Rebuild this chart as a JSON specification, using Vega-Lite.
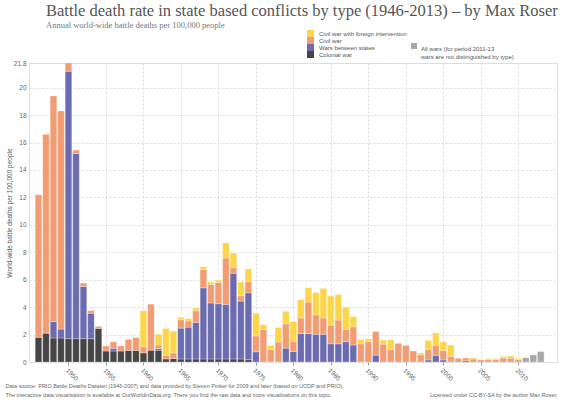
{
  "$schema": "https://vega.github.io/schema/vega-lite/v6.json",
  "autosize": {"type": "fit", "contains": "padding"},
  "width": 565,
  "height": 401,
  "padding": {"left": 5, "right": 8, "top": 3, "bottom": 3},
  "background": "white",
  "title": {
    "text": "Battle death rate in state based conflicts by type (1946-2013) – by Max Roser",
    "subtitle": "Annual world-wide battle deaths per 100,000 people",
    "anchor": "start",
    "frame": "group",
    "dx": 17,
    "offset": 31,
    "font": "Liberation Serif",
    "fontSize": 16.5,
    "fontWeight": "normal",
    "color": "#555555",
    "subtitleFont": "Liberation Serif",
    "subtitleFontSize": 8.5,
    "subtitleColor": "#777777",
    "subtitlePadding": 1
  },
  "data": {
    "values": [
      {"year": 1946, "type": "Colonial war", "value": 1.8},
      {"year": 1946, "type": "Civil war", "value": 10.4},
      {"year": 1947, "type": "Colonial war", "value": 2.1},
      {"year": 1947, "type": "Civil war", "value": 14.5},
      {"year": 1948, "type": "Colonial war", "value": 1.75},
      {"year": 1948, "type": "Wars between states", "value": 1.2},
      {"year": 1948, "type": "Civil war", "value": 16.45},
      {"year": 1949, "type": "Colonial war", "value": 1.75},
      {"year": 1949, "type": "Wars between states", "value": 0.65},
      {"year": 1949, "type": "Civil war", "value": 15.9},
      {"year": 1950, "type": "Colonial war", "value": 1.7},
      {"year": 1950, "type": "Wars between states", "value": 19.5},
      {"year": 1950, "type": "Civil war", "value": 0.6},
      {"year": 1951, "type": "Colonial war", "value": 1.7},
      {"year": 1951, "type": "Wars between states", "value": 13.5},
      {"year": 1951, "type": "Civil war", "value": 0.25},
      {"year": 1952, "type": "Colonial war", "value": 1.7},
      {"year": 1952, "type": "Wars between states", "value": 3.8},
      {"year": 1952, "type": "Civil war", "value": 0.25},
      {"year": 1953, "type": "Colonial war", "value": 1.7},
      {"year": 1953, "type": "Wars between states", "value": 1.85},
      {"year": 1953, "type": "Civil war", "value": 0.2},
      {"year": 1954, "type": "Colonial war", "value": 2.45},
      {"year": 1954, "type": "Civil war", "value": 0.15},
      {"year": 1955, "type": "Colonial war", "value": 0.8},
      {"year": 1955, "type": "Civil war", "value": 0.37},
      {"year": 1956, "type": "Colonial war", "value": 0.8},
      {"year": 1956, "type": "Wars between states", "value": 0.2},
      {"year": 1956, "type": "Civil war", "value": 0.47},
      {"year": 1957, "type": "Colonial war", "value": 0.8},
      {"year": 1957, "type": "Civil war", "value": 0.37},
      {"year": 1958, "type": "Colonial war", "value": 0.84},
      {"year": 1958, "type": "Civil war", "value": 0.81},
      {"year": 1959, "type": "Colonial war", "value": 0.84},
      {"year": 1959, "type": "Civil war", "value": 0.94},
      {"year": 1960, "type": "Colonial war", "value": 0.67},
      {"year": 1960, "type": "Civil war", "value": 0.44},
      {"year": 1960, "type": "Civil war with foreign intervention", "value": 2.62},
      {"year": 1961, "type": "Colonial war", "value": 0.86},
      {"year": 1961, "type": "Civil war", "value": 3.36},
      {"year": 1962, "type": "Colonial war", "value": 0.86},
      {"year": 1962, "type": "Wars between states", "value": 0.13},
      {"year": 1962, "type": "Civil war", "value": 0.25},
      {"year": 1962, "type": "Civil war with foreign intervention", "value": 0.78},
      {"year": 1963, "type": "Colonial war", "value": 0.22},
      {"year": 1963, "type": "Civil war", "value": 0.27},
      {"year": 1963, "type": "Civil war with foreign intervention", "value": 1.95},
      {"year": 1964, "type": "Colonial war", "value": 0.25},
      {"year": 1964, "type": "Civil war", "value": 0.42},
      {"year": 1964, "type": "Civil war with foreign intervention", "value": 1.58},
      {"year": 1965, "type": "Colonial war", "value": 0.22},
      {"year": 1965, "type": "Wars between states", "value": 2.25},
      {"year": 1965, "type": "Civil war", "value": 0.62},
      {"year": 1965, "type": "Civil war with foreign intervention", "value": 0.17},
      {"year": 1966, "type": "Colonial war", "value": 0.22},
      {"year": 1966, "type": "Wars between states", "value": 2.32},
      {"year": 1966, "type": "Civil war", "value": 0.45},
      {"year": 1966, "type": "Civil war with foreign intervention", "value": 0.17},
      {"year": 1967, "type": "Colonial war", "value": 0.22},
      {"year": 1967, "type": "Wars between states", "value": 2.67},
      {"year": 1967, "type": "Civil war", "value": 0.84},
      {"year": 1967, "type": "Civil war with foreign intervention", "value": 0.2},
      {"year": 1968, "type": "Colonial war", "value": 0.22},
      {"year": 1968, "type": "Wars between states", "value": 5.19},
      {"year": 1968, "type": "Civil war", "value": 1.33},
      {"year": 1968, "type": "Civil war with foreign intervention", "value": 0.2},
      {"year": 1969, "type": "Colonial war", "value": 0.22},
      {"year": 1969, "type": "Wars between states", "value": 4.08},
      {"year": 1969, "type": "Civil war", "value": 1.35},
      {"year": 1969, "type": "Civil war with foreign intervention", "value": 0.18},
      {"year": 1970, "type": "Colonial war", "value": 0.22},
      {"year": 1970, "type": "Wars between states", "value": 4.03},
      {"year": 1970, "type": "Civil war", "value": 1.55},
      {"year": 1970, "type": "Civil war with foreign intervention", "value": 0.17},
      {"year": 1971, "type": "Colonial war", "value": 0.22},
      {"year": 1971, "type": "Wars between states", "value": 3.98},
      {"year": 1971, "type": "Civil war", "value": 3.38},
      {"year": 1971, "type": "Civil war with foreign intervention", "value": 1.11},
      {"year": 1972, "type": "Colonial war", "value": 0.22},
      {"year": 1972, "type": "Wars between states", "value": 6.25},
      {"year": 1972, "type": "Civil war", "value": 0.42},
      {"year": 1972, "type": "Civil war with foreign intervention", "value": 1.06},
      {"year": 1973, "type": "Colonial war", "value": 0.22},
      {"year": 1973, "type": "Wars between states", "value": 4.22},
      {"year": 1973, "type": "Civil war", "value": 0.4},
      {"year": 1973, "type": "Civil war with foreign intervention", "value": 0.99},
      {"year": 1974, "type": "Colonial war", "value": 0.17},
      {"year": 1974, "type": "Wars between states", "value": 4.87},
      {"year": 1974, "type": "Civil war", "value": 0.81},
      {"year": 1974, "type": "Civil war with foreign intervention", "value": 0.94},
      {"year": 1975, "type": "Wars between states", "value": 0.74},
      {"year": 1975, "type": "Civil war", "value": 1.16},
      {"year": 1975, "type": "Civil war with foreign intervention", "value": 1.66},
      {"year": 1976, "type": "Civil war", "value": 2.37},
      {"year": 1976, "type": "Civil war with foreign intervention", "value": 0.35},
      {"year": 1977, "type": "Civil war", "value": 0.91},
      {"year": 1977, "type": "Civil war with foreign intervention", "value": 0.3},
      {"year": 1978, "type": "Civil war", "value": 1.46},
      {"year": 1978, "type": "Civil war with foreign intervention", "value": 1.06},
      {"year": 1979, "type": "Wars between states", "value": 1.01},
      {"year": 1979, "type": "Civil war", "value": 1.76},
      {"year": 1979, "type": "Civil war with foreign intervention", "value": 0.93},
      {"year": 1980, "type": "Wars between states", "value": 0.77},
      {"year": 1980, "type": "Civil war", "value": 0.74},
      {"year": 1980, "type": "Civil war with foreign intervention", "value": 1.43},
      {"year": 1981, "type": "Wars between states", "value": 2.07},
      {"year": 1981, "type": "Civil war", "value": 1.14},
      {"year": 1981, "type": "Civil war with foreign intervention", "value": 1.33},
      {"year": 1982, "type": "Wars between states", "value": 2.07},
      {"year": 1982, "type": "Civil war", "value": 2.3},
      {"year": 1982, "type": "Civil war with foreign intervention", "value": 1.04},
      {"year": 1983, "type": "Wars between states", "value": 2.02},
      {"year": 1983, "type": "Civil war", "value": 1.41},
      {"year": 1983, "type": "Civil war with foreign intervention", "value": 1.63},
      {"year": 1984, "type": "Wars between states", "value": 2.02},
      {"year": 1984, "type": "Civil war", "value": 1.19},
      {"year": 1984, "type": "Civil war with foreign intervention", "value": 2.15},
      {"year": 1985, "type": "Wars between states", "value": 1.33},
      {"year": 1985, "type": "Civil war", "value": 1.36},
      {"year": 1985, "type": "Civil war with foreign intervention", "value": 2.12},
      {"year": 1986, "type": "Wars between states", "value": 1.33},
      {"year": 1986, "type": "Civil war", "value": 1.73},
      {"year": 1986, "type": "Civil war with foreign intervention", "value": 1.85},
      {"year": 1987, "type": "Wars between states", "value": 1.48},
      {"year": 1987, "type": "Civil war", "value": 0.91},
      {"year": 1987, "type": "Civil war with foreign intervention", "value": 1.61},
      {"year": 1988, "type": "Wars between states", "value": 1.24},
      {"year": 1988, "type": "Civil war", "value": 1.33},
      {"year": 1988, "type": "Civil war with foreign intervention", "value": 0.74},
      {"year": 1989, "type": "Civil war", "value": 1.33},
      {"year": 1989, "type": "Civil war with foreign intervention", "value": 0.3},
      {"year": 1990, "type": "Civil war", "value": 1.48},
      {"year": 1990, "type": "Civil war with foreign intervention", "value": 0.2},
      {"year": 1991, "type": "Wars between states", "value": 0.5},
      {"year": 1991, "type": "Civil war", "value": 1.72},
      {"year": 1992, "type": "Civil war", "value": 1.3},
      {"year": 1992, "type": "Civil war with foreign intervention", "value": 0.3},
      {"year": 1993, "type": "Civil war", "value": 0.91},
      {"year": 1993, "type": "Civil war with foreign intervention", "value": 0.7},
      {"year": 1994, "type": "Civil war", "value": 1.36},
      {"year": 1995, "type": "Civil war", "value": 1.21},
      {"year": 1996, "type": "Civil war", "value": 0.8},
      {"year": 1997, "type": "Civil war", "value": 0.53},
      {"year": 1997, "type": "Civil war with foreign intervention", "value": 0.14},
      {"year": 1998, "type": "Wars between states", "value": 0.15},
      {"year": 1998, "type": "Civil war", "value": 0.76},
      {"year": 1998, "type": "Civil war with foreign intervention", "value": 0.67},
      {"year": 1999, "type": "Wars between states", "value": 0.49},
      {"year": 1999, "type": "Civil war", "value": 0.73},
      {"year": 1999, "type": "Civil war with foreign intervention", "value": 0.9},
      {"year": 2000, "type": "Wars between states", "value": 0.15},
      {"year": 2000, "type": "Civil war", "value": 0.69},
      {"year": 2000, "type": "Civil war with foreign intervention", "value": 0.63},
      {"year": 2001, "type": "Civil war", "value": 0.42},
      {"year": 2001, "type": "Civil war with foreign intervention", "value": 0.81},
      {"year": 2002, "type": "Civil war", "value": 0.27},
      {"year": 2003, "type": "Wars between states", "value": 0.1},
      {"year": 2003, "type": "Civil war", "value": 0.2},
      {"year": 2004, "type": "Civil war", "value": 0.22},
      {"year": 2004, "type": "Civil war with foreign intervention", "value": 0.08},
      {"year": 2005, "type": "Civil war", "value": 0.15},
      {"year": 2006, "type": "Civil war", "value": 0.17},
      {"year": 2006, "type": "Civil war with foreign intervention", "value": 0.08},
      {"year": 2007, "type": "Civil war", "value": 0.17},
      {"year": 2007, "type": "Civil war with foreign intervention", "value": 0.08},
      {"year": 2008, "type": "Civil war", "value": 0.28},
      {"year": 2008, "type": "Civil war with foreign intervention", "value": 0.12},
      {"year": 2009, "type": "Civil war", "value": 0.28},
      {"year": 2009, "type": "Civil war with foreign intervention", "value": 0.17},
      {"year": 2010, "type": "Civil war", "value": 0.17},
      {"year": 2010, "type": "Civil war with foreign intervention", "value": 0.1},
      {"year": 2011, "type": "All wars", "value": 0.31},
      {"year": 2012, "type": "All wars", "value": 0.52},
      {"year": 2013, "type": "All wars", "value": 0.76}
    ]
  },
  "encoding": {
    "y": {
      "field": "value",
      "type": "quantitative",
      "stack": "zero",
      "scale": {"domain": [0, 21.8], "nice": false},
      "axis": {
        "title": "World-wide battle deaths per 100,000 people",
        "values": [0, 2, 4, 6, 8, 10, 12, 14, 16, 18, 20, 21.8],
        "format": ".3~g",
        "ticks": false,
        "domain": false,
        "labelPadding": 3,
        "titlePadding": 1
      }
    },
    "order": {"field": "year", "type": "quantitative"}
  },
  "layer": [
    {
      "transform": [{"filter": "datum.type !== 'All wars'"}],
      "mark": {"type": "bar", "size": 6.6, "stroke": "#ffffff", "strokeWidth": 0.4, "strokeOpacity": 0.7},
      "encoding": {
        "x": {
          "field": "year",
          "type": "quantitative",
          "scale": {"domain": [1945.4, 2014.5], "nice": false, "zero": false},
          "axis": {
            "values": [1950, 1955, 1960, 1965, 1970, 1975, 1980, 1985, 1990, 1995, 2000, 2005, 2010],
            "format": "d",
            "labelAngle": 45,
            "labelAlign": "left",
            "labelBaseline": "top",
            "tickSize": 3,
            "tickColor": "#999999",
            "domain": false,
            "title": [
              "Data source: PRIO Battle Deaths Dataset (1946-2007) and data provided by Steven Pinker for 2009 and later (based on UCDP and PRIO).",
              "The interactive data visualisation is available at OurWorldinData.org. There you find the raw data and more visualisations on this topic."
            ],
            "titleAnchor": "start",
            "titleAlign": "left",
            "titleBaseline": "top",
            "titleX": -24,
            "titleY": 21,
            "titleFontSize": 5.5,
            "titleFontWeight": "normal",
            "titleColor": "#666666",
            "titleLineHeight": 9.5
          }
        },
        "color": {
          "field": "type",
          "type": "nominal",
          "sort": ["Civil war with foreign intervention", "Civil war", "Wars between states", "Colonial war"],
          "scale": {
            "domain": ["Civil war with foreign intervention", "Civil war", "Wars between states", "Colonial war"],
            "range": ["#fcd54a", "#f29c74", "#6b6bb0", "#454545"]
          },
          "legend": {
            "title": null,
            "orient": "none",
            "legendX": 278,
            "legendY": -33,
            "symbolType": "square",
            "symbolSize": 49,
            "symbolStrokeWidth": 0,
            "rowPadding": 0,
            "labelFontSize": 6,
            "labelColor": "#555555",
            "labelOffset": 5
          }
        }
      }
    },
    {
      "transform": [{"filter": "datum.type === 'All wars'"}],
      "mark": {"type": "bar", "size": 6.6, "stroke": "#ffffff", "strokeWidth": 0.4, "strokeOpacity": 0.7},
      "encoding": {
        "x": {
          "field": "year",
          "type": "quantitative",
          "axis": {
            "orient": "bottom",
            "labels": false,
            "ticks": false,
            "domain": false,
            "grid": false,
            "title": "Licensed under CC-BY-SA by the author Max Roser.",
            "titleAnchor": "end",
            "titleAlign": "right",
            "titleBaseline": "top",
            "titleY": 30.5,
            "titleFontSize": 5.5,
            "titleFontWeight": "normal",
            "titleColor": "#666666"
          }
        },
        "color": {
          "field": "type",
          "type": "nominal",
          "scale": {"domain": ["All wars"], "range": ["#a9a9a9"]},
          "legend": {
            "title": null,
            "orient": "none",
            "legendX": 382,
            "legendY": -20,
            "symbolType": "square",
            "symbolSize": 36,
            "symbolStrokeWidth": 0,
            "labelFontSize": 6,
            "labelColor": "#555555",
            "labelOffset": 4,
            "labelBaseline": "top",
            "labelLineHeight": 8,
            "labelExpr": "['All wars (for period 2011-13', 'wars are not distinguished by type)']"
          }
        }
      }
    }
  ],
  "resolve": {"scale": {"color": "independent"}, "axis": {"x": "independent"}},
  "config": {
    "font": "Liberation Sans",
    "view": {"stroke": "#dddddd"},
    "axis": {
      "labelFontSize": 6.5,
      "labelColor": "#666666",
      "labelFont": "Liberation Sans",
      "titleFont": "Liberation Sans",
      "titleFontSize": 6.5,
      "titleFontWeight": "normal",
      "titleColor": "#555555",
      "gridColor": "#dddddd",
      "gridDash": [2, 2],
      "gridWidth": 1
    },
    "legend": {"labelFont": "Liberation Sans"}
  }
}
